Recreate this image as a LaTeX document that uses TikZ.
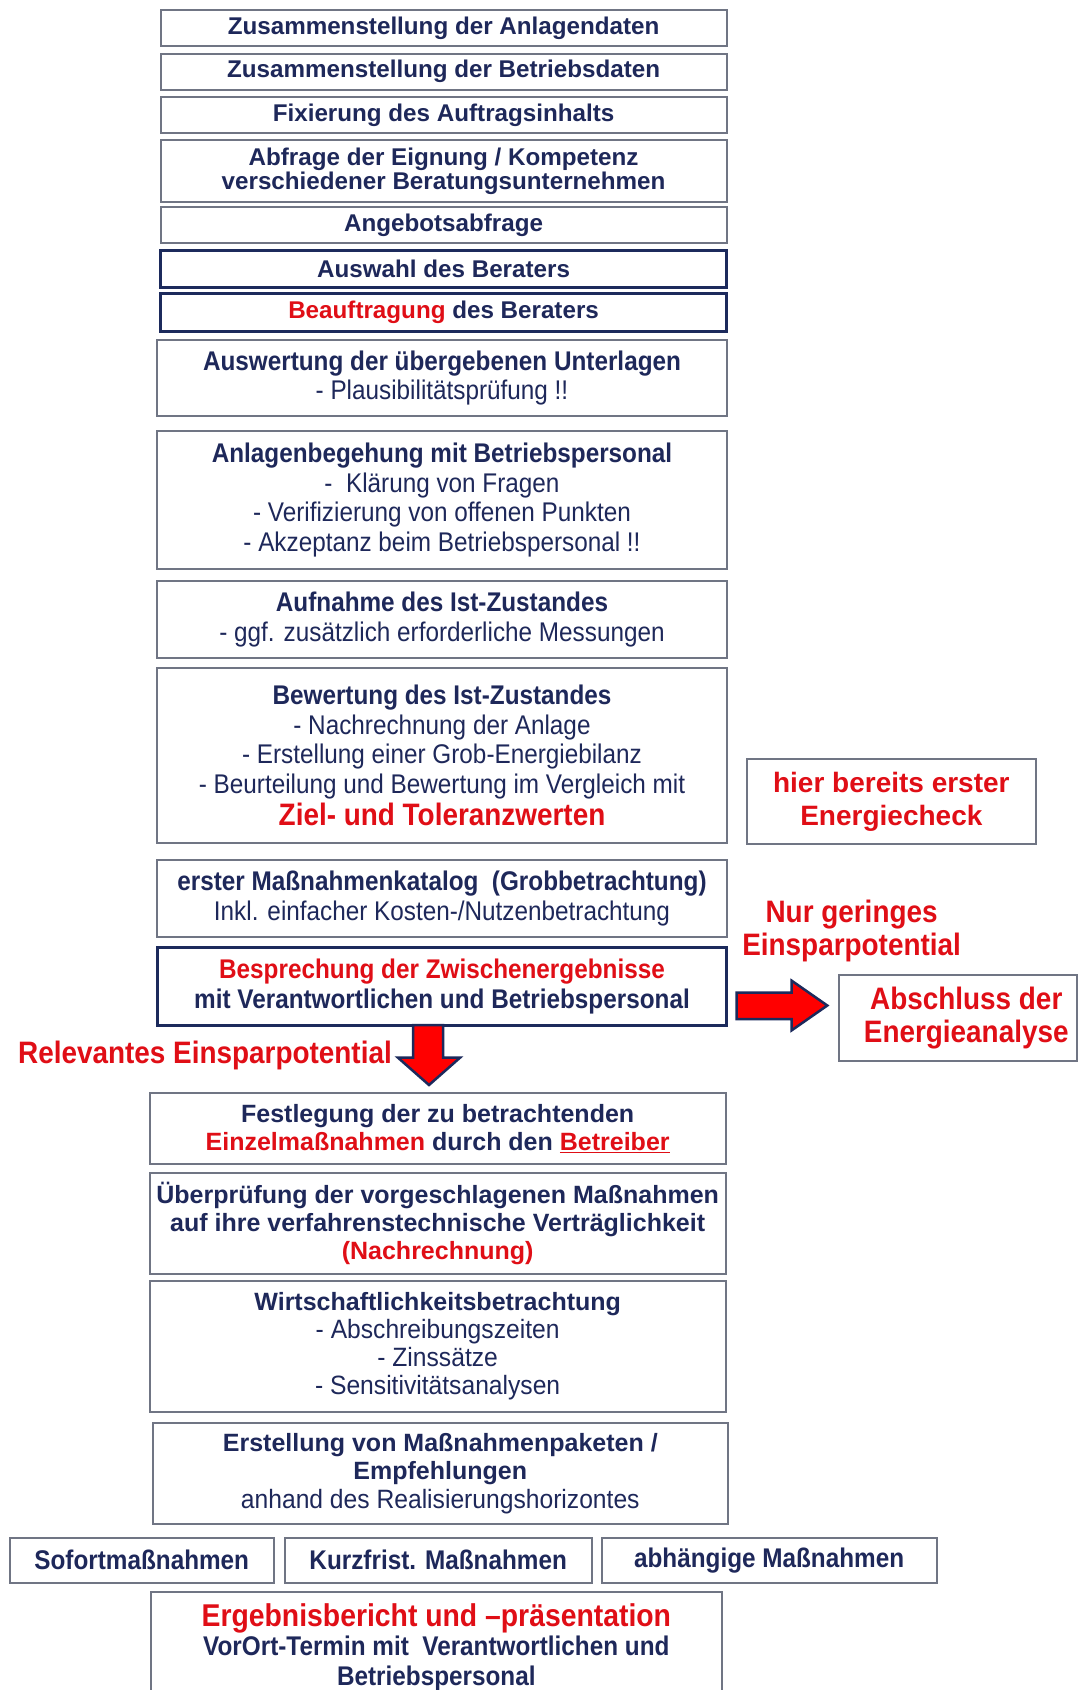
\documentclass[tikz,border=0pt]{standalone}
\usepackage{fontspec}
\setmainfont{Liberation Sans}
\newfontfamily\narr[FakeStretch=0.9]{Liberation Sans}
\newfontfamily\narrb[FakeStretch=0.93]{Liberation Sans}
\usetikzlibrary{calc}
\definecolor{navy}{RGB}{30,40,90}
\definecolor{myred}{RGB}{224,14,22}
\definecolor{bgray}{RGB}{112,117,132}
\definecolor{bnavy}{RGB}{28,42,92}
\definecolor{arrred}{RGB}{255,0,0}
\tikzset{
  box/.style={draw=bgray, line width=2pt, fill=white, inner sep=0pt, align=center, text=navy},
  navybox/.style={box, draw=bnavy, line width=3pt},
  topfont/.style={font=\fontsize{24.2}{24}\selectfont\bfseries},
  midfont/.style={font=\fontsize{27}{29.5}\selectfont\narr},
  lowfont/.style={font=\fontsize{25}{28.2}\selectfont},
  redlabel/.style={inner sep=0pt, align=center, text=myred, font=\fontsize{31}{32.5}\selectfont\narr\bfseries},
  blockarrow/.style={fill=arrred, draw=bnavy, line width=2.5pt, line join=miter},
}
\newcommand\flowbox[7]{\node[#6, minimum width={(#4)-(#2)}, minimum height={(#5)-(#3)}] (#1) at ({((#2)+(#4))/2},{((#3)+(#5))/2}) {#7};}
\newcommand\lowreg{\fontsize{26.5}{28.2}\selectfont\narrb\mdseries}
\begin{document}
\begin{tikzpicture}[x=1pt,y=-1pt]
\useasboundingbox[fill=white] (0,0) rectangle (1078,1690);
% top boxes
\flowbox{b1}{160.6}{9.7}{726.6}{46.4}{box,topfont}{Zusammenstellung der Anlagendaten}
\flowbox{b2}{160.6}{53.9}{726.6}{89.5}{box,topfont}{Zusammenstellung der Betriebsdaten}
\flowbox{b3}{160.6}{97}{726.6}{132.6}{box,topfont}{Fixierung des Auftragsinhalts}
\flowbox{b4}{160.6}{140}{726.6}{201.6}{box,topfont}{Abfrage der Eignung / Kompetenz\\verschiedener Beratungsunternehmen}
\flowbox{b5}{160.6}{207}{726.6}{242.6}{box,topfont}{Angebotsabfrage}
\flowbox{b6}{160.6}{250}{726.6}{287.8}{navybox,topfont}{Auswahl des Beraters}
\flowbox{b7}{160.6}{293.2}{726.6}{331}{navybox,topfont}{{\color{myred}Beauftragung} des Beraters}
% middle boxes
\flowbox{b8}{157.4}{339.6}{726.6}{416}{box,midfont}{\textbf{Auswertung der übergebenen Unterlagen}\\- Plausibilitätsprüfung !!}
\flowbox{b9}{157.4}{431}{726.6}{569}{box,midfont}{\textbf{Anlagenbegehung mit Betriebspersonal}\\-\ \ Klärung von Fragen\\- Verifizierung von offenen Punkten\\- Akzeptanz beim Betriebspersonal !!}
\flowbox{b10}{157.4}{581}{726.6}{657.6}{box,midfont}{\textbf{Aufnahme des Ist-Zustandes}\\- ggf. zusätzlich erforderliche Messungen}
\flowbox{b11}{157.4}{668.4}{726.6}{843}{box,midfont}{\textbf{Bewertung des Ist-Zustandes}\\- Nachrechnung der Anlage\\- Erstellung einer Grob-Energiebilanz\\- Beurteilung und Bewertung im Vergleich mit\\[3pt]{\fontsize{31}{33}\selectfont\bfseries\color{myred}Ziel- und Toleranzwerten}}
\flowbox{side}{746.7}{759.3}{1036}{844}{box,font=\fontsize{28}{33}\selectfont\bfseries,text=myred}{hier bereits erster\\Energiecheck}
\flowbox{b12}{157.4}{860}{726.6}{936.8}{box,midfont}{\textbf{erster Maßnahmenkatalog\ \ (Grobbetrachtung)}\\Inkl. einfacher Kosten-/Nutzenbetrachtung}
\node[redlabel] (nur) at (851.6,931) {Nur geringes\\Einsparpotential};
\flowbox{b13}{157.4}{947.6}{726.6}{1025}{navybox,midfont}{\textbf{\color{myred}Besprechung der Zwischenergebnisse}\\\textbf{mit Verantwortlichen und Betriebspersonal}}
\flowbox{absch}{839}{975}{1076.5}{1060.8}{box,redlabel,text=myred}{\hspace*{17pt}Abschluss der\\\hspace*{17pt}Energieanalyse}
\node[redlabel] (rel) at (205,1055) {Relevantes Einsparpotential};
% lower boxes
\flowbox{b14}{149.8}{1093}{725.5}{1164}{box,lowfont}{\textbf{Festlegung der zu betrachtenden}\\\textbf{{\color{myred}Einzelmaßnahmen} durch den {\color{myred}\underline{Betreiber}}}}
\flowbox{b15}{149.8}{1173}{725.5}{1274}{box,lowfont}{\textbf{Überprüfung der vorgeschlagenen Maßnahmen}\\\textbf{auf ihre verfahrenstechnische Verträglichkeit}\\\textbf{\color{myred}(Nachrechnung)}}
\flowbox{b16}{149.8}{1280.7}{725.5}{1412}{box,lowfont}{\textbf{Wirtschaftlichkeitsbetrachtung}\\{\lowreg - Abschreibungszeiten}\\{\lowreg - Zinssätze}\\{\lowreg - Sensitivitätsanalysen}}
\flowbox{b17}{153}{1423}{727.6}{1524}{box,lowfont}{\textbf{Erstellung von Maßnahmenpaketen /}\\\textbf{Empfehlungen}\\{\lowreg anhand des Realisierungshorizontes}}
\flowbox{s1}{9.7}{1538}{273.8}{1582.5}{box,midfont}{\textbf{Sofortmaßnahmen}}
\flowbox{s2}{284.6}{1538}{591.8}{1582.5}{box,midfont}{\textbf{Kurzfrist. Maßnahmen}}
\flowbox{s3}{601.5}{1538}{936.8}{1582.5}{box,midfont}{\textbf{abhängige Maßnahmen}}
\flowbox{fin}{150.7}{1592}{722}{1702}{box,midfont}{{\fontsize{31.5}{33}\selectfont\bfseries\color{myred}Ergebnisbericht und –präsentation}\\\textbf{VorOrt-Termin mit\ \ Verantwortlichen und}\\\textbf{Betriebspersonal}}
% block arrows
\draw[blockarrow] (736.7,992.7) -- (791.7,992.7) -- (791.7,980.7) -- (827.3,1005.5) -- (791.7,1030.3) -- (791.7,1019) -- (736.7,1019) -- cycle;
\draw[blockarrow] (413,1025) -- (443,1025) -- (443,1057.7) -- (460,1057.7) -- (429,1085) -- (398,1057.7) -- (413,1057.7) -- cycle;
\end{tikzpicture}
\end{document}
